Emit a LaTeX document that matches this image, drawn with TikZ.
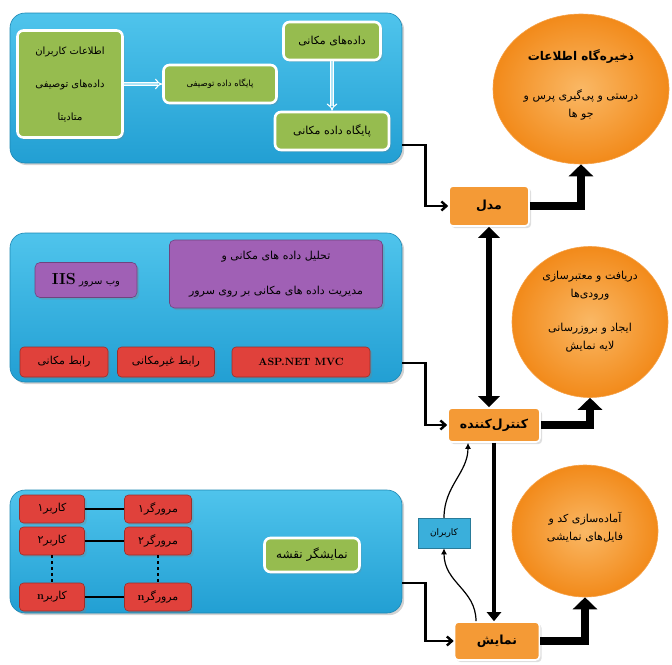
\documentclass[tikz,border=0pt]{standalone}
\usepackage{fontspec}
\usepackage{tikz}
\usetikzlibrary{arrows}
\usetikzlibrary{arrows.meta}
\usetikzlibrary{shapes.geometric}
\usetikzlibrary{shadows}
\newfontfamily\arabicfont[Script=Arabic]{DejaVu Sans}
\TeXXeTstate=1
\newcommand{\fatxt}[1]{{\arabicfont\beginR #1\endR}}

\definecolor{panelblue}{HTML}{229FD3}
\definecolor{panelhi}{HTML}{4FC4EC}
\definecolor{boxgreen}{HTML}{96BC4F}
\definecolor{boxpurple}{HTML}{A060B5}
\definecolor{boxred}{HTML}{E0413B}
\definecolor{boxorange}{HTML}{F49A36}
\definecolor{blobouter}{HTML}{F28A1A}
\definecolor{blobinner}{HTML}{FAB865}
\definecolor{userblue}{HTML}{3AAFDB}

\tikzset{
  boxsize/.style 2 args={minimum width=#1pt, minimum height=#2pt},
  panel/.style={rounded corners=15pt, draw=panelblue!85!black, line width=0.6pt,
    top color=panelhi, bottom color=panelblue, drop shadow={opacity=0.35},
    inner sep=0pt},
  greenbox/.style={draw=white, line width=2.6pt, fill=boxgreen, rounded corners=6pt,
    inner sep=0pt, align=center, font=\fontsize{11}{13}\selectfont,
    drop shadow={opacity=0.25}},
  purplebox/.style={draw=boxpurple!70!black, line width=0.6pt, fill=boxpurple,
    rounded corners=5pt, inner sep=0pt, align=center,
    font=\fontsize{11}{13}\selectfont, drop shadow={opacity=0.3}},
  redbox/.style={draw=boxred!70!black, line width=0.6pt, fill=boxred,
    rounded corners=4pt, inner sep=0pt, align=center,
    font=\fontsize{11}{13}\selectfont, drop shadow={opacity=0.3}},
  orangebox/.style={draw=white, line width=1.6pt, fill=boxorange, rounded corners=4pt,
    inner sep=0pt, font=\fontsize{12.5}{14}\selectfont\bfseries,
    drop shadow={opacity=0.25}},
  userbox/.style={draw=userblue!70!black, line width=0.5pt, fill=userblue,
    inner sep=0pt, font=\fontsize{9}{11}\selectfont},
  blob/.style={ellipse, inner sep=0pt, align=center, draw=blobouter!80!white,
    line width=0.6pt, inner color=blobinner, outer color=blobouter,
    font=\fontsize{11}{13}\selectfont},
  hollowarr/.style={draw=white, double=panelhi!45!white, double distance=2.5pt,
    line width=1.1pt, -{Implies}},
  linkarr/.style={line width=2.4pt, -{Straight Barb[length=5pt,width=9pt]}},
  fatarr/.style={line width=7.5pt, -{Triangle[length=12pt,width=24pt]}},
  fatboth/.style={line width=6.5pt, {Triangle[length=11pt,width=21pt]}-{Triangle[length=11pt,width=21pt]}},
  downarr/.style={line width=4pt, -{Triangle[length=9pt,width=14pt]}},
  wavearr/.style={line width=1.2pt, -{Latex[length=6pt,width=6pt]}},
  tie/.style={line width=1.6pt},
}

\begin{document}
\begin{tikzpicture}[x=1pt, y=-1pt]
\useasboundingbox (0,0) rectangle (672,664);

% three panels on the left
\draw (206, 88)
  node[panel, boxsize={392}{150}] (toppanel) {};
\draw (206, 307.5)
  node[panel, boxsize={392}{149}] (midpanel) {};
\draw (206, 551.5)
  node[panel, boxsize={392}{123}] (lowpanel) {};

% data panel
\draw (70, 84)
  node[greenbox, boxsize={105}{107}, font=\fontsize{10}{13}\selectfont] (metadata) {%
\fatxt{اطلاعات کاربران}\\[20pt]\fatxt{داده‌های توصیفی}\\[20pt]\fatxt{متادیتا}};
\draw (220, 84)
  node[greenbox, boxsize={113}{38}, font=\fontsize{8.5}{10}\selectfont] (descdb) {\fatxt{پایگاه داده توصیفی}};
\draw (332, 41)
  node[greenbox, boxsize={97}{38}] (spdata) {\fatxt{داده‌های مکانی}};
\draw (332, 131)
  node[greenbox, boxsize={114}{38}] (spdb) {\fatxt{پایگاه داده مکانی}};
\draw[hollowarr] (metadata.east) -- (descdb.west);
\draw[hollowarr] (spdata.south) -- (spdb.north);

% server panel
\draw (86, 280)
  node[purplebox, boxsize={102}{35}, font=\fontsize{10}{12}\selectfont] (iis) {%
\fatxt{وب سرور \beginL{\normalfont\fontsize{16}{18}\selectfont\bfseries IIS}\endL}};
\draw (276, 274)
  node[purplebox, boxsize={213}{68}] (analysis) {%
\fatxt{تحلیل داده های مکانی و}\\[22pt]\fatxt{مدیریت داده های مکانی بر روی سرور}};
\draw (64, 362)
  node[redbox, boxsize={88}{30}] (spif) {\fatxt{رابط مکانی}};
\draw (166, 362)
  node[redbox, boxsize={97}{30}] (nspif) {\fatxt{رابط غیرمکانی}};
\draw (301, 362)
  node[redbox, boxsize={138}{30}] (mvc) {{\normalfont\fontsize{10.5}{12}\selectfont\bfseries ASP.NET MVC}};

% client panel
\draw (52, 509)
  node[redbox, boxsize={65}{28}] (user1) {\fatxt{کاربر۱}};
\draw (158, 509)
  node[redbox, boxsize={67}{28}] (brow1) {\fatxt{مرورگر۱}};
\draw (52, 541)
  node[redbox, boxsize={65}{28}] (user2) {\fatxt{کاربر۲}};
\draw (158, 541)
  node[redbox, boxsize={67}{28}] (brow2) {\fatxt{مرورگر۲}};
\draw (52, 597)
  node[redbox, boxsize={65}{28}] (usern) {\fatxt{کاربر\beginL{\normalfont\bfseries n}\endL}};
\draw (158, 597)
  node[redbox, boxsize={67}{28}] (brown) {\fatxt{مرورگر\beginL{\normalfont\bfseries n}\endL}};
\draw[tie] (user1.east) -- (brow1.west);
\draw[tie] (user2.east) -- (brow2.west);
\draw[tie] (usern.east) -- (brown.west);
\draw[tie, dashed] (user2.south) -- (usern.north);
\draw[tie, dashed] (brow2.south) -- (brown.north);
\draw (312, 555)
  node[greenbox, boxsize={95}{34}, font=\fontsize{12}{14}\selectfont] (mapview) {\fatxt{نمایشگر نقشه}};

% MVC column
\draw (489, 206)
  node[orangebox, boxsize={80}{40}] (model) {\fatxt{مدل}};
\draw (494, 425)
  node[orangebox, boxsize={92}{34}] (ctrl) {\fatxt{کنترل‌کننده}};
\draw (497, 641)
  node[orangebox, boxsize={85}{38}] (view) {\fatxt{نمایش}};
\draw (444, 533)
  node[userbox, boxsize={52}{30}] (users) {\fatxt{کاربران}};

% ellipses
\draw (581, 89)
  node[blob, boxsize={176}{150}] (store) {%
\fatxt{\fontsize{12}{14}\selectfont\bfseries ذخیره‌گاه اطلاعات}\\[26pt]%
\fatxt{درستی و پی‌گیری پرس و}\\[5pt]\fatxt{جو ها}\\[-3pt]\mbox{}};
\draw (590, 322)
  node[blob, boxsize={156}{151}] (valid) {%
\fatxt{دریافت و معتبرسازی}\\[5pt]\fatxt{ورودی‌ها}\\[21pt]%
\fatxt{ایجاد و بروزرسانی}\\[5pt]\fatxt{لایه نمایش}\\[11pt]\mbox{}};
\draw (585, 531)
  node[blob, boxsize={146}{132}] (prep) {%
\fatxt{آماده‌سازی کد و}\\[5pt]\fatxt{فایل‌های نمایشی}\\[-3pt]\mbox{}};

% connectors
\draw[linkarr] ([yshift=-57pt]toppanel.east) -- ++(23,0) |- (model.west);
\draw[linkarr] ([yshift=-55.5pt]midpanel.east) -- ++(23,0) |- (ctrl.west);
\draw[linkarr] ([yshift=-31.5pt]lowpanel.east) -- ++(23,0) |- (view.west);
\draw[fatarr] (model.east) -| (store.south);
\draw[fatarr] (ctrl.east) -| (valid.south);
\draw[fatarr] (view.east) -| (prep.south);
\draw[fatboth] (model.south) -- (model.south |- ctrl.north);
\draw[downarr] (ctrl.south) -- (ctrl.south |- view.north);
\draw[wavearr] ([xshift=-21pt]view.north) .. controls +(0,-32) and +(0,35) .. (users.south);
\draw[wavearr] (users.north) .. controls +(0,-32) and +(0,30) .. ([xshift=-26pt]ctrl.south);
\end{tikzpicture}
\end{document}
